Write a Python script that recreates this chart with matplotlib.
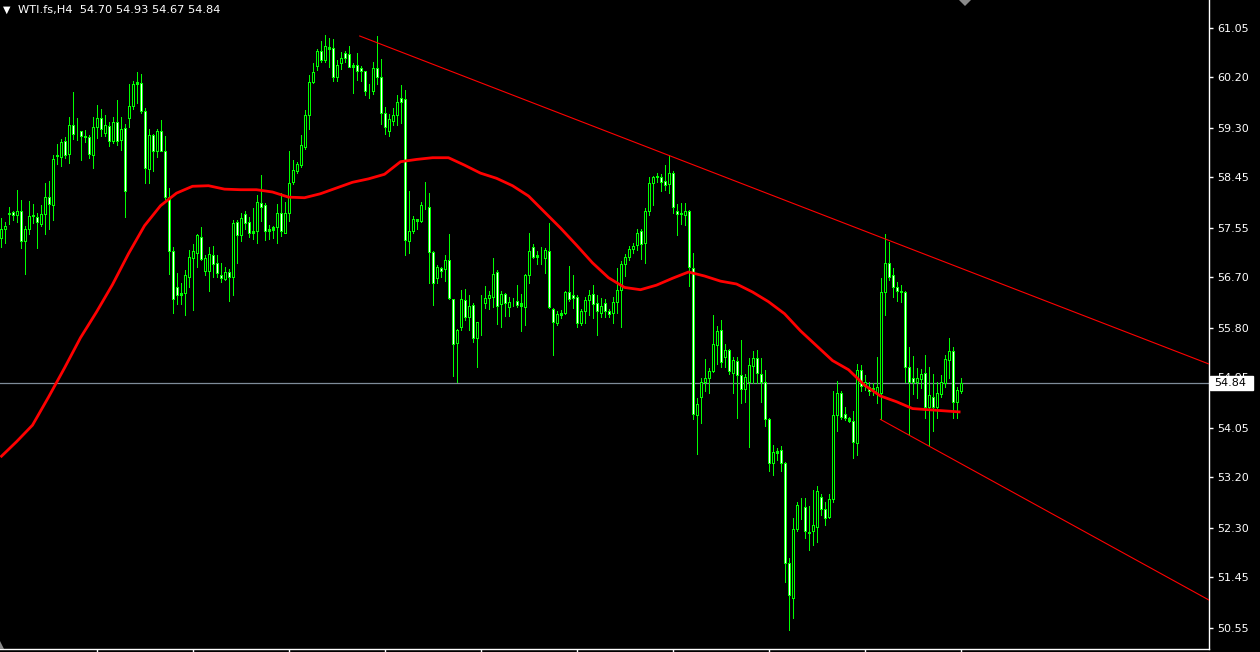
import matplotlib
matplotlib.use("Agg")
import matplotlib.pyplot as plt
from matplotlib.patches import Rectangle, Polygon
from matplotlib.transforms import blended_transform_factory
import numpy as np

# ---------------- data (WTI.fs, H4) ----------------
opens = [57.38, 57.54, 57.80, 57.83, 57.77, 57.85, 57.33, 57.54, 57.76, 57.75,
         57.62, 57.79, 58.09, 57.95, 58.81, 58.80, 59.08, 58.84, 59.36, 59.18,
         59.24, 59.16, 59.15, 58.82, 59.31, 59.47, 59.22, 59.34, 59.07, 59.40,
         59.09, 59.30, 59.47, 59.68, 60.07, 60.08, 59.60, 58.58, 59.18, 58.90,
         59.25, 58.90, 58.10, 57.14, 56.51, 56.41, 56.42, 56.70, 57.02, 57.12,
         57.40, 56.79, 56.79, 57.07, 56.93, 56.72, 56.66, 56.78, 56.70, 57.65,
         57.42, 57.80, 57.65, 57.50, 57.49, 57.98, 57.95, 57.54, 57.56, 57.56,
         57.81, 57.47, 57.82, 58.36, 58.55, 58.66, 58.97, 59.53, 60.10, 60.39,
         60.64, 60.49, 60.71, 60.70, 60.20, 60.43, 60.61, 60.59, 60.40, 60.41,
         60.35, 60.29, 59.95, 59.95, 60.35, 60.20, 59.57, 59.24, 59.43, 59.52,
         59.82, 59.80, 57.33, 57.50, 57.68, 57.68, 57.91, 57.92, 57.13, 56.67,
         56.85, 56.83, 56.99, 56.30, 55.53, 55.82, 56.29, 56.00, 56.20, 55.63,
         55.90, 56.24, 56.33, 56.35, 56.78, 56.22, 56.40, 56.17, 56.25, 56.28,
         56.19, 56.17, 56.72, 57.21, 57.04, 57.02, 57.02, 57.14, 56.13, 55.88,
         56.03, 56.07, 56.43, 56.37, 56.34, 55.89, 56.10, 56.29, 56.40, 56.23,
         56.07, 56.23, 56.10, 56.06, 56.26, 56.46, 56.92, 57.05, 57.18, 57.25,
         57.49, 57.28, 57.85, 58.33, 58.46, 58.45, 58.38, 58.32, 58.52, 57.85,
         57.81, 57.77, 57.84, 56.85, 54.27, 54.60, 54.85, 54.92, 55.04, 55.50,
         55.76, 55.30, 55.42, 55.02, 55.22, 54.97, 54.73, 54.85, 55.14, 55.27,
         55.00, 54.85, 54.20, 53.44, 53.65, 53.67, 53.43, 51.68, 51.08, 52.28,
         52.68, 52.66, 52.23, 52.24, 52.32, 52.84, 52.63, 52.50, 52.80, 54.27,
         54.66, 54.30, 54.22, 54.17, 53.79, 55.07, 54.79, 54.77, 54.75, 54.67,
         54.67, 56.43, 56.93, 56.73, 56.52, 56.45, 56.43, 55.11, 54.92, 54.85,
         54.91, 55.01, 54.42, 54.60, 54.41, 54.65, 54.83, 55.24, 55.39, 54.50,
         54.70]
highs = [57.72, 57.66, 57.92, 57.85, 58.21, 58.04, 57.59, 58.02, 57.97, 57.81,
         57.95, 58.33, 58.37, 58.83, 59.02, 59.11, 59.14, 59.49, 59.93, 59.47,
         59.25, 59.27, 59.18, 59.49, 59.71, 59.63, 59.53, 59.41, 59.49, 59.79,
         59.50, 59.37, 60.07, 60.12, 60.28, 60.25, 59.65, 59.28, 59.20, 59.28,
         59.44, 59.16, 58.25, 57.22, 56.76, 56.58, 56.82, 57.17, 57.27, 57.45,
         57.57, 57.08, 57.22, 57.24, 57.08, 56.93, 56.86, 56.83, 57.69, 57.69,
         57.81, 57.84, 57.74, 57.90, 58.13, 58.47, 57.99, 57.60, 57.59, 57.97,
         58.17, 58.01, 58.90, 58.74, 58.71, 59.18, 59.62, 60.22, 60.43, 60.68,
         60.83, 60.93, 60.87, 60.86, 60.49, 60.63, 60.64, 60.74, 60.43, 60.61,
         60.39, 60.30, 60.07, 60.45, 60.91, 60.51, 59.66, 59.55, 59.65, 59.88,
         60.05, 59.97, 58.20, 57.76, 57.71, 58.01, 58.35, 58.17, 57.15, 56.90,
         56.87, 57.08, 57.45, 56.30, 55.79, 56.46, 56.48, 56.38, 56.23, 55.91,
         56.37, 56.54, 56.44, 57.03, 56.82, 56.44, 56.41, 56.35, 56.32, 56.55,
         56.40, 56.75, 57.46, 57.27, 57.14, 57.21, 57.20, 57.63, 56.15, 56.09,
         56.12, 56.45, 56.89, 56.73, 56.37, 56.13, 56.35, 56.46, 56.55, 56.38,
         56.32, 56.31, 56.13, 56.35, 56.85, 56.97, 57.10, 57.24, 57.28, 57.53,
         57.54, 57.90, 58.45, 58.46, 58.52, 58.50, 58.65, 58.82, 58.55, 57.97,
         57.98, 57.98, 57.86, 57.11, 54.57, 54.93, 55.26, 55.10, 56.03, 55.84,
         55.94, 55.52, 55.43, 55.30, 55.30, 55.59, 54.99, 55.27, 55.39, 55.42,
         55.27, 55.07, 54.23, 53.75, 53.70, 53.74, 53.46, 51.77, 52.47, 52.76,
         52.82, 52.82, 52.69, 52.97, 53.04, 52.90, 52.76, 52.89, 54.69, 54.88,
         54.69, 54.42, 54.25, 54.34, 55.17, 55.15, 54.98, 54.86, 54.84, 55.30,
         56.67, 57.45, 57.31, 56.85, 56.61, 56.55, 56.44, 55.46, 55.31, 55.10,
         55.08, 55.33, 55.12, 54.99, 54.86, 54.98, 55.32, 55.63, 55.46, 54.77,
         54.93]
lows = [57.22, 57.28, 57.62, 57.69, 57.66, 57.20, 56.74, 57.44, 57.64, 57.20,
        57.59, 57.44, 57.54, 57.69, 58.67, 58.64, 58.77, 58.69, 59.11, 59.09,
        58.74, 59.06, 58.77, 58.60, 59.12, 59.16, 59.16, 58.99, 59.03, 59.00,
        58.92, 57.75, 59.31, 59.63, 59.73, 59.57, 58.33, 58.33, 58.54, 58.79,
        58.89, 58.06, 56.74, 56.07, 56.22, 56.22, 56.03, 56.51, 56.12, 56.86,
        56.99, 56.73, 56.45, 56.70, 56.70, 56.61, 56.64, 56.28, 56.37, 56.94,
        57.33, 57.53, 57.39, 57.36, 57.29, 57.68, 57.34, 57.35, 57.37, 57.29,
        57.41, 57.46, 57.68, 58.32, 58.52, 58.61, 58.93, 59.28, 60.08, 60.31,
        60.46, 60.46, 60.37, 60.13, 60.12, 60.33, 60.46, 60.36, 59.92, 60.14,
        60.12, 59.87, 59.83, 59.90, 60.07, 59.37, 59.19, 59.16, 59.35, 59.35,
        59.38, 57.07, 57.12, 57.46, 57.54, 57.65, 57.88, 56.59, 56.20, 56.59,
        56.70, 56.63, 56.30, 54.96, 54.86, 55.76, 55.94, 55.76, 55.55, 55.12,
        55.67, 56.15, 56.13, 56.17, 55.87, 55.82, 56.01, 56.01, 56.18, 56.17,
        55.74, 55.85, 56.59, 57.02, 56.92, 56.92, 56.77, 56.15, 55.32, 55.85,
        55.97, 56.05, 56.28, 56.15, 55.81, 55.85, 55.88, 56.03, 55.98, 55.67,
        56.00, 56.00, 56.00, 55.89, 56.06, 55.81, 56.71, 56.99, 57.11, 57.17,
        57.01, 56.94, 57.77, 57.95, 58.36, 58.20, 58.22, 58.16, 57.81, 57.42,
        57.62, 57.60, 56.54, 54.20, 53.59, 54.14, 54.69, 54.67, 55.03, 55.17,
        55.12, 55.11, 54.99, 54.66, 54.22, 54.48, 54.51, 53.72, 54.84, 54.83,
        54.51, 54.09, 53.29, 53.23, 53.49, 53.29, 51.36, 50.52, 50.73, 52.24,
        52.45, 52.12, 51.92, 52.00, 52.06, 52.52, 52.35, 52.47, 52.76, 54.00,
        54.20, 54.19, 54.16, 53.53, 53.57, 54.69, 54.72, 54.62, 54.62, 54.49,
        54.20, 56.02, 56.64, 56.35, 56.28, 56.26, 54.86, 53.95, 54.65, 54.57,
        54.75, 54.22, 53.75, 54.00, 54.22, 54.60, 54.77, 54.93, 54.22, 54.23,
        54.67]
closes = [57.54, 57.59, 57.81, 57.77, 57.85, 57.33, 57.53, 57.76, 57.77, 57.65,
          57.79, 58.10, 57.97, 58.75, 58.82, 59.06, 58.83, 59.35, 59.19, 59.17,
          59.16, 59.15, 58.84, 59.31, 59.47, 59.28, 59.35, 59.07, 59.41, 59.08,
          59.29, 58.19, 59.69, 60.07, 60.10, 59.60, 58.60, 59.17, 58.90, 59.25,
          58.90, 58.10, 57.15, 56.30, 56.38, 56.38, 56.72, 57.04, 57.14, 57.43,
          57.00, 57.03, 57.09, 56.92, 56.77, 56.67, 56.78, 56.70, 57.63, 57.42,
          57.72, 57.63, 57.47, 57.47, 58.00, 57.92, 57.50, 57.50, 57.52, 57.81,
          57.50, 57.81, 58.33, 58.56, 58.67, 59.00, 59.53, 60.10, 60.28, 60.65,
          60.49, 60.74, 60.68, 60.20, 60.40, 60.52, 60.53, 60.37, 60.37, 60.30,
          60.30, 59.94, 59.94, 60.35, 60.20, 59.57, 59.32, 59.45, 59.53, 59.76,
          59.76, 57.34, 57.49, 57.71, 57.70, 57.95, 57.92, 57.13, 56.58, 56.86,
          56.80, 56.99, 56.32, 55.52, 55.76, 56.30, 56.00, 56.18, 55.63, 55.90,
          55.91, 56.33, 56.38, 56.75, 56.19, 56.40, 56.24, 56.25, 56.26, 56.20,
          56.23, 56.72, 57.14, 57.05, 57.07, 57.03, 57.17, 56.16, 55.90, 56.04,
          56.07, 56.43, 56.31, 56.32, 55.89, 56.10, 56.29, 56.38, 56.22, 56.09,
          56.18, 56.10, 56.04, 56.26, 56.46, 56.92, 57.05, 57.18, 57.24, 57.47,
          57.27, 57.85, 58.34, 58.44, 58.44, 58.36, 58.30, 58.52, 57.91, 57.79,
          57.79, 57.85, 56.86, 54.29, 54.47, 54.85, 54.92, 55.05, 55.52, 55.75,
          55.20, 55.42, 55.05, 55.24, 54.97, 54.74, 54.94, 55.15, 55.27, 55.01,
          54.85, 54.20, 53.44, 53.63, 53.61, 53.43, 51.68, 51.12, 52.28, 52.70,
          52.69, 52.24, 52.22, 52.35, 52.95, 52.63, 52.48, 52.80, 54.27, 54.67,
          54.25, 54.22, 54.18, 53.81, 55.07, 54.79, 54.86, 54.69, 54.74, 54.77,
          56.43, 56.93, 56.70, 56.52, 56.44, 56.43, 55.11, 54.85, 54.85, 54.92,
          55.00, 54.42, 54.62, 54.42, 54.67, 54.85, 55.26, 55.40, 54.50, 54.72,
          54.84]

# moving average, read every 4th bar
ma_step = 4
ma_values = [53.54, 53.81, 54.10, 54.59, 55.10, 55.63, 56.08, 56.56, 57.10, 57.59,
             57.94, 58.16, 58.28, 58.29, 58.23, 58.22, 58.22, 58.18, 58.09, 58.08,
             58.15, 58.25, 58.35, 58.41, 58.49, 58.71, 58.75, 58.78, 58.78, 58.65,
             58.51, 58.42, 58.29, 58.11, 57.83, 57.55, 57.25, 56.94, 56.68, 56.51,
             56.47, 56.55, 56.67, 56.78, 56.71, 56.62, 56.57, 56.43, 56.26, 56.05,
             55.75, 55.49, 55.23, 55.07, 54.80, 54.61, 54.51, 54.39, 54.37, 54.35,
             54.33]

# trend lines: (bar index, price) anchors
upper_trend_x = [89.8, 302.1]
upper_trend_y = [60.91, 55.17]
lower_trend_x = [220.0, 302.1]
lower_trend_y = [54.20, 51.04]

price_ticks = [61.05, 60.20, 59.30, 58.45, 57.55, 56.70, 55.80, 54.95,
               54.05, 53.20, 52.30, 51.45, 50.55]
time_ticks = [24, 48, 72, 96, 120, 144, 168, 192, 216, 240]
last_price = 54.84
header = "WTI.fs,H4  54.70 54.93 54.67 54.84"

# ---------------- figure ----------------
W, H = 1260, 652
AX_W, AX_H = 1209, 649
fig = plt.figure(figsize=(W / 100, H / 100), dpi=100, facecolor="black")
ax = fig.add_axes([0, (H - AX_H) / H, AX_W / W, AX_H / H], facecolor="black")
x_left = -0.125
ax.set_xlim(x_left, x_left + AX_W / 4.0)
ymin, ymax = 50.1825, 61.54
ax.set_ylim(ymin, ymax)
px_y = (ymax - ymin) / AX_H     # price per pixel
px_x = 0.25                     # bar units per pixel

green = "#00ff00"
n = len(opens)
x = np.arange(n)
o = np.array(opens); c = np.array(closes)
h = np.array(highs); l = np.array(lows)
lw1 = 0.72  # one pixel

body_bottom = np.minimum(o, c)
body_top = np.maximum(o, c)
body_top = np.maximum(body_top, body_bottom + 0.5 * px_y)

# wick (center column, full range)
ax.vlines(x, l, h, color=green, linewidth=lw1, antialiased=False, zorder=3)
# body frame: left and right columns
ax.vlines(x - px_x, body_bottom, body_top, color=green, linewidth=lw1,
          antialiased=False, zorder=4)
ax.vlines(x + px_x, body_bottom, body_top, color=green, linewidth=lw1,
          antialiased=False, zorder=4)
# body interior: white for falling bars, black for rising bars
falling = c < o
big = (body_top - body_bottom) > 2.5 * px_y
sel_w = falling & big
sel_b = (~falling) & big
ax.vlines(x[sel_w], body_bottom[sel_w] + px_y, body_top[sel_w] - px_y,
          color="white", linewidth=lw1, antialiased=False, zorder=5)
ax.vlines(x[sel_b], body_bottom[sel_b] + px_y, body_top[sel_b] - px_y,
          color="black", linewidth=lw1, antialiased=False, zorder=5)

# moving average
ma_x = np.arange(len(ma_values)) * ma_step
ax.plot(ma_x, ma_values, color="#ff0000", linewidth=2.0, zorder=6,
        solid_capstyle="butt")

# trend lines
ax.plot(upper_trend_x, upper_trend_y, color="#ff0000", linewidth=0.8, zorder=6)
ax.plot(lower_trend_x, lower_trend_y, color="#ff0000", linewidth=0.8, zorder=6)

# current price line
ax.axhline(last_price, color="#7f8c99", linewidth=0.9, zorder=2)

# axes styling
for s in ["top", "left"]:
    ax.spines[s].set_visible(False)
for s in ["right", "bottom"]:
    ax.spines[s].set_color("white")
    ax.spines[s].set_linewidth(1.0)
ax.yaxis.tick_right()
ax.set_yticks(price_ticks)
ax.set_yticklabels(["%.2f" % v for v in price_ticks])
ax.tick_params(axis="y", colors="white", length=3, width=1, labelsize=8,
               pad=3, direction="out")
ax.set_xticks(time_ticks)
ax.tick_params(axis="x", colors="white", length=4, width=1,
               labelbottom=False, direction="out")

# last price label box (covers the axis label beneath it, as in the terminal)
tr = blended_transform_factory(ax.transAxes, ax.transData)
box_h = 14 * px_y
ax.add_patch(Rectangle((1.0012, last_price - box_h / 2), 43 / AX_W, box_h,
                       transform=tr, facecolor="white", edgecolor="white",
                       clip_on=False, zorder=20))
ax.text(1.0045, last_price, "%.2f" % last_price, transform=tr, color="black",
        fontsize=8, va="center", ha="left", zorder=21, clip_on=False)

# header
fig.text(3 / W, 1 - 10 / H, "\u25BC", color="white", fontsize=7,
         va="center", ha="left")
fig.text(18 / W, 1 - 10 / H, header, color="white", fontsize=8.2,
         va="center", ha="left")

# chart shift marker at top and scroll marker bottom-left
fig.add_artist(Polygon([[959 / W, 1.0], [971 / W, 1.0], [965 / W, 1 - 6 / H]],
                       closed=True, transform=fig.transFigure,
                       facecolor="#8a8a8a", edgecolor="none"))
fig.add_artist(Polygon([[0, 3 / H], [4 / W, 3 / H], [0, 11 / H]],
                       closed=True, transform=fig.transFigure,
                       facecolor="#8a8a8a", edgecolor="none"))

fig.savefig("out.png", dpi=100, facecolor="black")
